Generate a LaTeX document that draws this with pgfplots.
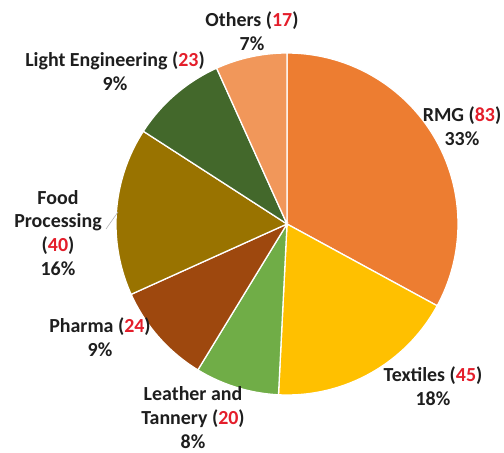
\documentclass[border=0pt]{standalone}
\usepackage{fontspec}
\setmainfont{Carlito}
\usepackage{pgfplots}
\pgfplotsset{compat=1.18}
\usepgfplotslibrary{polar}
\definecolor{cRMG}{HTML}{ED7D31}
\definecolor{cTex}{HTML}{FFC000}
\definecolor{cLea}{HTML}{70AD47}
\definecolor{cPha}{HTML}{9E480E}
\definecolor{cFoo}{HTML}{997300}
\definecolor{cLig}{HTML}{43682B}
\definecolor{cOth}{HTML}{F1975A}
\definecolor{numred}{HTML}{E41E2B}
\definecolor{txt}{HTML}{1E1E1E}
\begin{document}
\begin{tikzpicture}[x=1bp,y=1bp]
% values
\def\vRMG{83}\def\vTex{45}\def\vLea{20}\def\vPha{24}\def\vFoo{40}\def\vLig{23}\def\vOth{17}
\pgfmathsetmacro{\tot}{\vRMG+\vTex+\vLea+\vPha+\vFoo+\vLig+\vOth}
\pgfmathsetmacro{\aA}{90}
\pgfmathsetmacro{\aB}{\aA-\vRMG/\tot*360}
\pgfmathsetmacro{\aC}{\aB-\vTex/\tot*360}
\pgfmathsetmacro{\aD}{\aC-\vLea/\tot*360}
\pgfmathsetmacro{\aE}{\aD-\vPha/\tot*360}
\pgfmathsetmacro{\aF}{\aE-\vFoo/\tot*360}
\pgfmathsetmacro{\aG}{\aF-\vLig/\tot*360}
\pgfmathsetmacro{\aH}{\aG-\vOth/\tot*360}
\begin{polaraxis}[hide axis, scale only axis, width=342bp, height=342bp,
  xmin=0, xmax=360, ymin=0, ymax=1, at={(0,0)}, anchor=center, clip=false]
\addplot[fill=cRMG, draw=white, line width=1.3bp, domain=\aB:\aA, samples=90, mark=none] {1} -- (axis cs:0,0) -- cycle;
\addplot[fill=cTex, draw=white, line width=1.3bp, domain=\aC:\aB, samples=60, mark=none] {1} -- (axis cs:0,0) -- cycle;
\addplot[fill=cLea, draw=white, line width=1.3bp, domain=\aD:\aC, samples=40, mark=none] {1} -- (axis cs:0,0) -- cycle;
\addplot[fill=cPha, draw=white, line width=1.3bp, domain=\aE:\aD, samples=40, mark=none] {1} -- (axis cs:0,0) -- cycle;
\addplot[fill=cFoo, draw=white, line width=1.3bp, domain=\aF:\aE, samples=60, mark=none] {1} -- (axis cs:0,0) -- cycle;
\addplot[fill=cLig, draw=white, line width=1.3bp, domain=\aG:\aF, samples=40, mark=none] {1} -- (axis cs:0,0) -- cycle;
\addplot[fill=cOth, draw=white, line width=1.3bp, domain=\aH:\aG, samples=40, mark=none] {1} -- (axis cs:0,0) -- cycle;
\end{polaraxis}
\draw[gray!60, line width=0.6bp] (-181,-5) -- (-169,12);
\begin{scope}[every node/.style={align=center, inner sep=0pt, text=txt, font=\fontsize{20}{24}\selectfont\bfseries}]
\node at (-35,192.5) {Others (\textcolor{numred}{17})\\7\%};
\node at (-172,153) {Light Engineering (\textcolor{numred}{23})\\9\%};
\node at (175,97.5) {RMG (\textcolor{numred}{83})\\33\%};
\node at (-229,-9) {Food\\Processing\\(\textcolor{numred}{40})\\16\%};
\node at (-187,-113.5) {Pharma (\textcolor{numred}{24})\\9\%};
\node at (146,-162.5) {Textiles (\textcolor{numred}{45})\\18\%};
\node at (-94,-193.5) {Leather and\\Tannery (\textcolor{numred}{20})\\8\%};
\end{scope}
\pgfresetboundingbox
\path[use as bounding box] (-287,-229) rectangle (217,224);
\end{tikzpicture}
\end{document}
